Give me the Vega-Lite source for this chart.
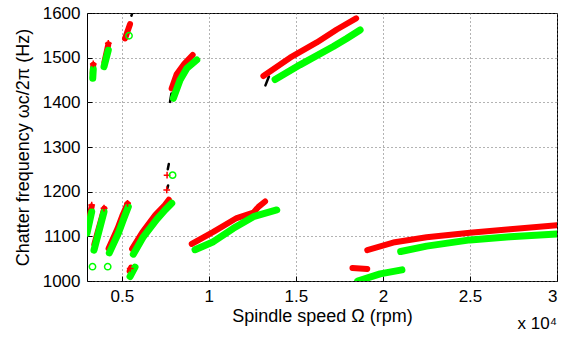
{
  "$schema": "https://vega.github.io/schema/vega-lite/v6.json",
  "width": 470,
  "height": 268,
  "autosize": {"type": "none"},
  "padding": {"left": 87, "top": 13, "right": 4, "bottom": 57},
  "title": {"text": "x 10⁴", "orient": "bottom", "anchor": "end", "frame": "group", "fontSize": 17, "fontWeight": "normal", "font": "Liberation Sans", "offset": -9, "color": "black"},
  "config": {
    "font": "Liberation Sans",
    "view": {"stroke": "black", "strokeWidth": 1},
    "axis": {"labelFont": "Liberation Sans", "labelFontSize": 17, "labelColor": "black", "titleFont": "Liberation Sans", "titleFontSize": 18, "titleFontWeight": "normal", "titleColor": "black", "domain": false, "grid": true, "gridColor": "#666", "gridDash": [1, 3], "gridWidth": 1, "ticks": true, "tickSize": -5, "tickColor": "black", "labelPadding": 12}
  },
  "data": {"values": [
    {"s": "black", "g": "b1", "k": "line", "x": 7770, "y": 1401},
    {"s": "black", "g": "b1", "k": "line", "x": 7850, "y": 1420},
    {"s": "black", "g": "b2", "k": "line", "x": 13250, "y": 1438},
    {"s": "black", "g": "b2", "k": "line", "x": 13450, "y": 1458},
    {"s": "black", "g": "b3", "k": "line", "x": 7640, "y": 1250},
    {"s": "black", "g": "b3", "k": "line", "x": 7700, "y": 1262},
    {"s": "black", "g": "b4", "k": "line", "x": 7620, "y": 1208},
    {"s": "black", "g": "b4", "k": "line", "x": 7660, "y": 1214},
    {"s": "black", "g": "b5", "k": "line", "x": 5550, "y": 1594},
    {"s": "black", "g": "b5", "k": "line", "x": 5580, "y": 1597},

    {"s": "red", "g": "r1", "k": "line", "x": 3000, "y": 1117},
    {"s": "red", "g": "r1", "k": "line", "x": 3270, "y": 1167},
    {"s": "red", "g": "r2", "k": "line", "x": 3420, "y": 1082},
    {"s": "red", "g": "r2", "k": "line", "x": 3990, "y": 1162},
    {"s": "red", "g": "r3", "k": "line", "x": 4240, "y": 1073},
    {"s": "red", "g": "r3", "k": "line", "x": 4760, "y": 1118},
    {"s": "red", "g": "r3", "k": "line", "x": 5050, "y": 1148},
    {"s": "red", "g": "r3", "k": "line", "x": 5330, "y": 1173},
    {"s": "red", "g": "r4", "k": "line", "x": 5450, "y": 1022},
    {"s": "red", "g": "r4", "k": "line", "x": 5530, "y": 1030},
    {"s": "red", "g": "r5", "k": "line", "x": 5590, "y": 1072},
    {"s": "red", "g": "r5", "k": "line", "x": 6180, "y": 1109},
    {"s": "red", "g": "r5", "k": "line", "x": 6930, "y": 1148},
    {"s": "red", "g": "r5", "k": "line", "x": 7430, "y": 1168},
    {"s": "red", "g": "r5", "k": "line", "x": 7700, "y": 1182},
    {"s": "red", "g": "r6", "k": "line", "x": 3330, "y": 1465},
    {"s": "red", "g": "r6", "k": "line", "x": 3360, "y": 1484},
    {"s": "red", "g": "r7", "k": "line", "x": 4000, "y": 1490},
    {"s": "red", "g": "r7", "k": "line", "x": 4224, "y": 1530},
    {"s": "red", "g": "r8", "k": "line", "x": 5184, "y": 1543},
    {"s": "red", "g": "r8", "k": "line", "x": 5471, "y": 1575},
    {"s": "red", "g": "r9", "k": "line", "x": 7862, "y": 1431},
    {"s": "red", "g": "r9", "k": "line", "x": 8150, "y": 1463},
    {"s": "red", "g": "r9", "k": "line", "x": 8600, "y": 1487},
    {"s": "red", "g": "r9", "k": "line", "x": 9069, "y": 1506},
    {"s": "red", "g": "r10", "k": "line", "x": 13132, "y": 1459},
    {"s": "red", "g": "r10", "k": "line", "x": 14667, "y": 1500},
    {"s": "red", "g": "r10", "k": "line", "x": 16200, "y": 1534},
    {"s": "red", "g": "r10", "k": "line", "x": 17350, "y": 1563},
    {"s": "red", "g": "r10", "k": "line", "x": 18460, "y": 1588},
    {"s": "red", "g": "r11", "k": "line", "x": 9017, "y": 1083},
    {"s": "red", "g": "r11", "k": "line", "x": 10260, "y": 1110},
    {"s": "red", "g": "r11", "k": "line", "x": 11600, "y": 1141},
    {"s": "red", "g": "r11", "k": "line", "x": 12560, "y": 1153},
    {"s": "red", "g": "r11", "k": "line", "x": 12850, "y": 1166},
    {"s": "red", "g": "r11", "k": "line", "x": 13230, "y": 1178},
    {"s": "red", "g": "r12", "k": "line", "x": 19100, "y": 1069},
    {"s": "red", "g": "r12", "k": "line", "x": 20590, "y": 1086},
    {"s": "red", "g": "r12", "k": "line", "x": 22510, "y": 1098},
    {"s": "red", "g": "r12", "k": "line", "x": 25000, "y": 1108},
    {"s": "red", "g": "r12", "k": "line", "x": 27300, "y": 1116},
    {"s": "red", "g": "r12", "k": "line", "x": 30000, "y": 1125},
    {"s": "red", "g": "r13", "k": "line", "x": 18250, "y": 1029},
    {"s": "red", "g": "r13", "k": "line", "x": 19100, "y": 1027},

    {"s": "green", "g": "g1", "k": "line", "x": 3000, "y": 1107},
    {"s": "green", "g": "g1", "k": "line", "x": 3270, "y": 1155},
    {"s": "green", "g": "g2", "k": "line", "x": 3402, "y": 1069},
    {"s": "green", "g": "g2", "k": "line", "x": 3977, "y": 1155},
    {"s": "green", "g": "g3", "k": "line", "x": 4282, "y": 1063},
    {"s": "green", "g": "g3", "k": "line", "x": 4800, "y": 1107},
    {"s": "green", "g": "g3", "k": "line", "x": 5087, "y": 1137},
    {"s": "green", "g": "g3", "k": "line", "x": 5374, "y": 1166},
    {"s": "green", "g": "g4", "k": "line", "x": 5471, "y": 1010},
    {"s": "green", "g": "g4", "k": "line", "x": 5759, "y": 1031},
    {"s": "green", "g": "g5", "k": "line", "x": 5661, "y": 1060},
    {"s": "green", "g": "g5", "k": "line", "x": 6236, "y": 1099},
    {"s": "green", "g": "g5", "k": "line", "x": 7006, "y": 1138},
    {"s": "green", "g": "g5", "k": "line", "x": 7483, "y": 1159},
    {"s": "green", "g": "g5", "k": "line", "x": 7868, "y": 1174},
    {"s": "green", "g": "g6", "k": "line", "x": 3330, "y": 1454},
    {"s": "green", "g": "g6", "k": "line", "x": 3360, "y": 1474},
    {"s": "green", "g": "g7", "k": "line", "x": 3977, "y": 1480},
    {"s": "green", "g": "g7", "k": "line", "x": 4224, "y": 1517},
    {"s": "green", "g": "g9", "k": "line", "x": 7960, "y": 1409},
    {"s": "green", "g": "g9", "k": "line", "x": 8345, "y": 1450},
    {"s": "green", "g": "g9", "k": "line", "x": 8730, "y": 1476},
    {"s": "green", "g": "g9", "k": "line", "x": 9305, "y": 1495},
    {"s": "green", "g": "g10", "k": "line", "x": 13805, "y": 1451},
    {"s": "green", "g": "g10", "k": "line", "x": 15237, "y": 1484},
    {"s": "green", "g": "g10", "k": "line", "x": 17150, "y": 1525},
    {"s": "green", "g": "g10", "k": "line", "x": 17920, "y": 1543},
    {"s": "green", "g": "g10", "k": "line", "x": 18690, "y": 1562},
    {"s": "green", "g": "g11", "k": "line", "x": 9207, "y": 1070},
    {"s": "green", "g": "g11", "k": "line", "x": 10260, "y": 1088},
    {"s": "green", "g": "g11", "k": "line", "x": 11410, "y": 1118},
    {"s": "green", "g": "g11", "k": "line", "x": 12560, "y": 1144},
    {"s": "green", "g": "g11", "k": "line", "x": 13900, "y": 1159},
    {"s": "green", "g": "g12", "k": "line", "x": 21020, "y": 1066},
    {"s": "green", "g": "g12", "k": "line", "x": 22510, "y": 1078},
    {"s": "green", "g": "g12", "k": "line", "x": 25000, "y": 1092},
    {"s": "green", "g": "g12", "k": "line", "x": 27300, "y": 1099},
    {"s": "green", "g": "g12", "k": "line", "x": 30000, "y": 1105},
    {"s": "green", "g": "g13", "k": "line", "x": 18550, "y": 1000},
    {"s": "green", "g": "g13", "k": "line", "x": 19840, "y": 1016},
    {"s": "green", "g": "g13", "k": "line", "x": 21090, "y": 1025},

    {"s": "red", "g": "p", "k": "point", "x": 3270, "y": 1170},
    {"s": "red", "g": "p", "k": "point", "x": 3977, "y": 1163},
    {"s": "red", "g": "p", "k": "point", "x": 5330, "y": 1174},
    {"s": "red", "g": "p", "k": "point", "x": 3360, "y": 1486},
    {"s": "red", "g": "p", "k": "point", "x": 4224, "y": 1532},
    {"s": "red", "g": "p", "k": "point", "x": 7580, "y": 1204},
    {"s": "red", "g": "p", "k": "point", "x": 7600, "y": 1237},
    {"s": "red", "g": "p", "k": "point", "x": 5480, "y": 1028},
    {"s": "green", "g": "p", "k": "point", "x": 3316, "y": 1032},
    {"s": "green", "g": "p", "k": "point", "x": 4190, "y": 1032},
    {"s": "green", "g": "p", "k": "point", "x": 7917, "y": 1237},
    {"s": "green", "g": "p", "k": "point", "x": 5414, "y": 1549}
  ]},
  "encoding": {
    "x": {"field": "x", "type": "quantitative", "scale": {"domain": [3000, 30000], "nice": false, "zero": false}, "axis": {"values": [5000, 10000, 15000, 20000, 25000, 30000], "labelExpr": "'' + (datum.value / 10000)", "title": "Spindle speed Ω (rpm)", "titlePadding": 3}},
    "y": {"field": "y", "type": "quantitative", "scale": {"domain": [1000, 1600], "nice": false, "zero": false}, "axis": {"values": [1000, 1100, 1200, 1300, 1400, 1500, 1600], "format": "d", "title": "Chatter frequency ωc/2π (Hz)", "titlePadding": 10}}
  },
  "layer": [
    {"transform": [{"filter": "datum.k == 'line' && datum.s == 'black'"}], "mark": {"type": "line", "color": "black", "strokeWidth": 2.5, "strokeCap": "round", "clip": true}, "encoding": {"detail": {"field": "g"}}},
    {"transform": [{"filter": "datum.k == 'line' && datum.s == 'red'"}], "mark": {"type": "line", "color": "#ff0000", "strokeWidth": 6, "strokeCap": "round", "strokeJoin": "round", "clip": true}, "encoding": {"detail": {"field": "g"}}},
    {"transform": [{"filter": "datum.k == 'line' && datum.s == 'green'"}], "mark": {"type": "line", "color": "#00ff00", "strokeWidth": 7, "strokeCap": "round", "strokeJoin": "round", "clip": true}, "encoding": {"detail": {"field": "g"}}},
    {"transform": [{"filter": "datum.k == 'point' && datum.s == 'red'"}], "mark": {"type": "point", "shape": "M-1,0L1,0M0,-1L0,1", "filled": false, "color": "#ff0000", "strokeWidth": 1.5, "size": 45, "opacity": 1}},
    {"transform": [{"filter": "datum.k == 'point' && datum.s == 'green'"}], "mark": {"type": "point", "shape": "circle", "filled": false, "color": "#00ff00", "strokeWidth": 1.5, "size": 40, "opacity": 1}}
  ]
}
